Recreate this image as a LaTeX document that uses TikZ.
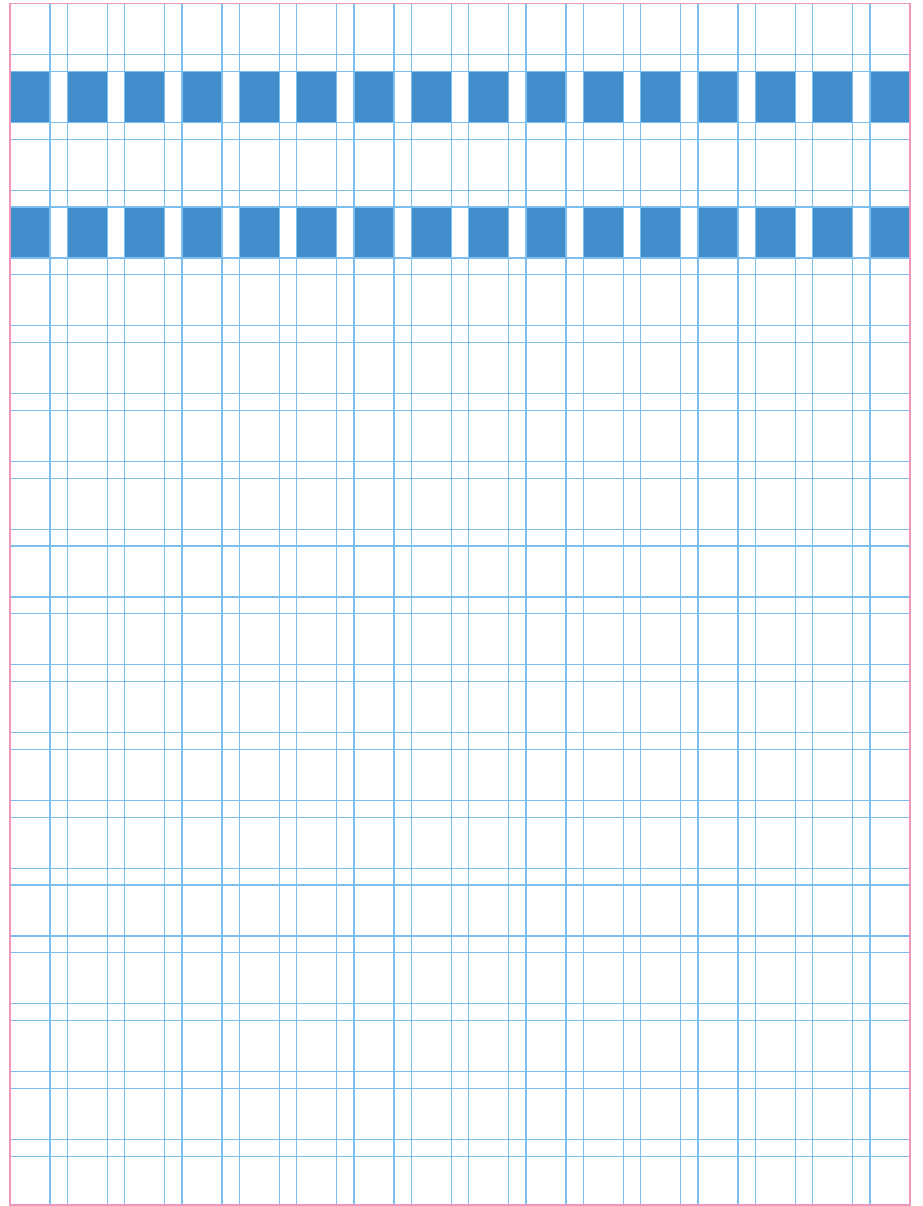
\documentclass[tikz,border=0pt]{standalone}
\usepackage{xcolor}
\usepackage{tikz}
\usetikzlibrary{positioning}
\definecolor{gridblue}{RGB}{125,190,240}
\definecolor{cellblue}{RGB}{66,142,204}
\definecolor{framepink}{RGB}{240,150,185}

\begin{document}
\begin{tikzpicture}[x=1pt, y=-1pt,
  gridline/.style={draw=gridblue, line width=1.3pt},
  cellbox/.style={fill=cellblue, draw=none},
  pageframe/.style={draw=framepink, line width=1.3pt}]
\useasboundingbox (0,0) rectangle (922,1206);
% filled rows (second and fourth)
\foreach \r in {1,3} {
  \foreach \c in {0,...,15} {
    \fill[cellbox] ({10+57.333*\c},{3.6+67.8*\r}) rectangle ++(40,51);
  }
}
% column lines
\foreach \c in {0,...,15} {
  \draw[gridline] ({10+57.333*\c+40},3.6) -- ++(0,1201.4);
  \draw[gridline] ({10+57.333*\c},3.6) -- ++(0,1201.4);
}
% row lines
\foreach \r in {0,...,16} {
  \draw[gridline] (10,{3.6+67.8*\r}) -- ++(900,0);
  \draw[gridline] (10,{3.6+67.8*\r+51}) -- ++(900,0);
}
\draw[gridline] (10,{3.6+67.8*17}) -- ++(900,0);
% page frame
\draw[pageframe] (10,3.6) rectangle (910,1205);
\end{tikzpicture}
\end{document}
